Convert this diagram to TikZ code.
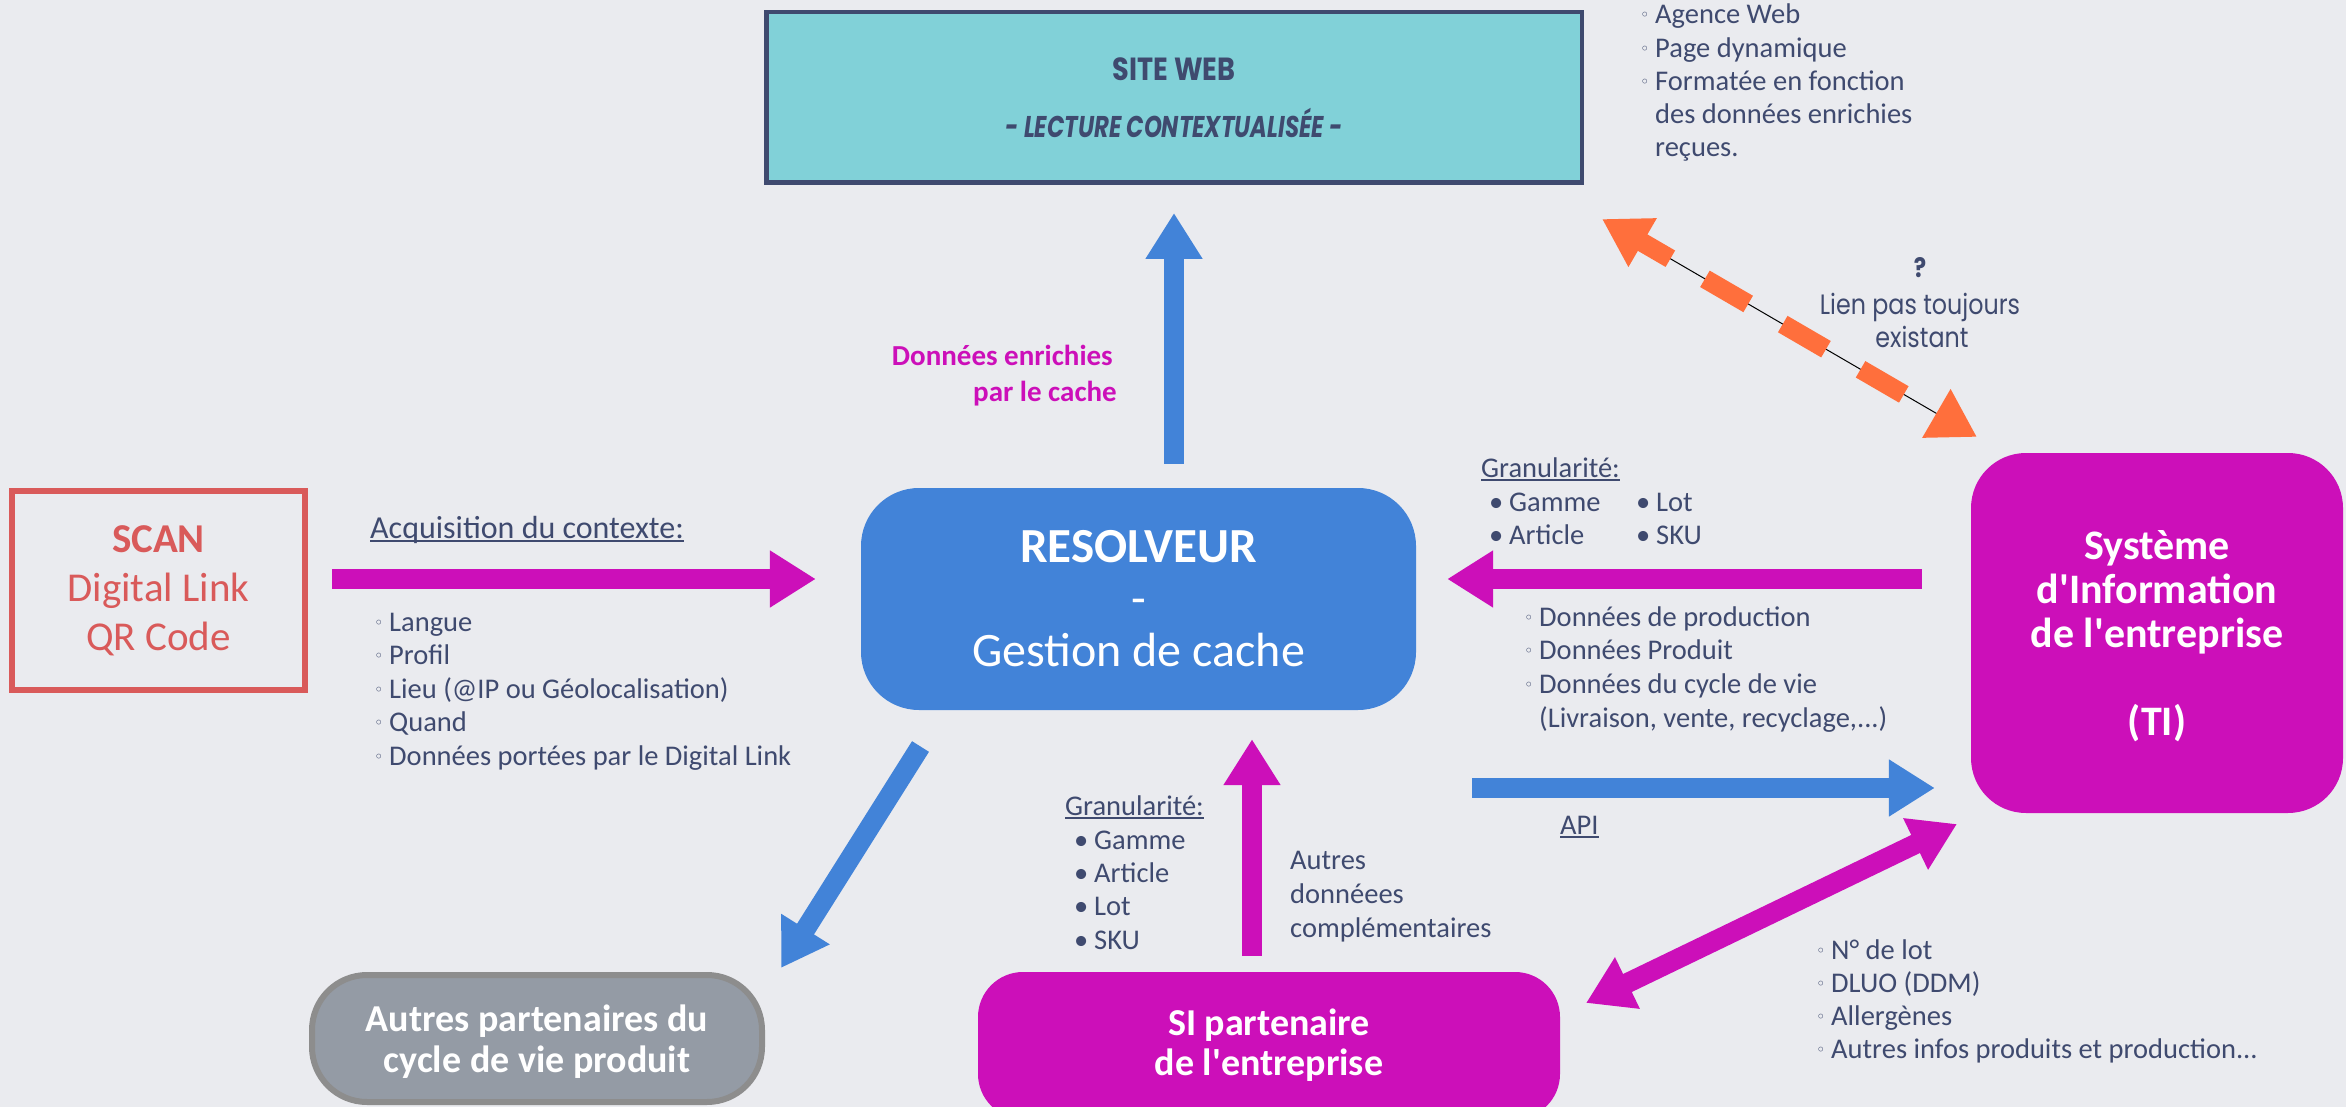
\documentclass[tikz,border=0pt]{standalone}
\usepackage{fontspec}
\setmainfont{Carlito}
\newfontfamily\geo{Poppins}[FakeStretch=0.85]
\newfontfamily\geoc{Poppins}[FakeStretch=0.76]
\newfontfamily\dv{DejaVu Sans}
\usetikzlibrary{arrows.meta}
\definecolor{bgc}{HTML}{EAEBEF}
\definecolor{navy}{HTML}{3F4A6F}
\definecolor{mag}{HTML}{CC0FB9}
\definecolor{blu}{HTML}{4283D8}
\definecolor{tealc}{HTML}{81D1D8}
\definecolor{redc}{HTML}{D95A5A}
\definecolor{orng}{HTML}{FF6F3C}
\definecolor{grayf}{HTML}{949BA5}
\definecolor{grayb}{HTML}{8D8D8D}
\newcommand\wb{\makebox[15pt][l]{\raisebox{3pt}{\dv\fontsize{16}{16}\selectfont ◦}}}
\newcommand\bb{\makebox[20pt][l]{•}}
\newcommand\qq{\textquotesingle}
\newcommand\ddd{.\kern0pt.\kern0pt.}
\begin{document}
\begin{tikzpicture}[x=1pt,y=-1pt,
  lst/.style={anchor=base west, inner sep=0pt, text=navy, font=\fontsize{28.5}{30}\selectfont},
  magfat/.style={draw=mag, line width=20pt, -{Triangle[length=46pt,width=54pt]}},
  blufat/.style={draw=blu, line width=20pt, -{Triangle[length=46pt,width=54pt]}},
  magboth/.style={draw=mag, line width=20pt, {Triangle[length=46pt,width=54pt]}-{Triangle[length=46pt,width=54pt]}},
  rbox/.style={inner sep=0pt, align=center, text=white},
  uline/.style={draw=navy, line width=2.5pt}
]
\fill[bgc] (0,0) rectangle (2346,1107);
\useasboundingbox (0,0) rectangle (2346,1107);

% main boxes
\node[draw=navy, line width=4.5pt, fill=tealc, minimum width=815.5pt, minimum height=170.5pt,
      inner sep=0pt, align=center, text=navy, font=\fontsize{32}{57}\selectfont] (site) at (1174,97.5)
  {{\geo\bfseries SITE WEB}\\{\geoc\itshape\bfseries\fontsize{30}{57}\selectfont - LECTURE CONTEXTUALISÉE -}};

\node[draw=redc, line width=6pt, minimum width=293pt, minimum height=199pt, inner sep=0pt,
      align=center, text=redc, font=\fontsize{41}{49}\selectfont] (scan) at (158.5,590.5)
  {\textbf{SCAN}\\Digital Link\\QR Code};

\node[fill=blu, rounded corners=58pt, minimum width=555pt, minimum height=222pt, rbox,
      font=\fontsize{48}{52}\selectfont] (res) at (1138.5,599)
  {{\fontsize{49}{52}\selectfont\textbf{RESOLVEUR}}\\-\\Gestion de cache};

\node[fill=mag, rounded corners=55pt, minimum width=372pt, minimum height=360pt, rbox,
      font=\bfseries\fontsize{42}{44}\selectfont, text depth=0pt] (ti) at (2157,633)
  {Système\\d\qq Information\\de l\qq entreprise\\[44pt](TI)};

\node[fill=mag, rounded corners=45pt, minimum width=582pt, minimum height=147pt, rbox,
      font=\bfseries\fontsize{38}{40}\selectfont] (sip) at (1269,1045.5)
  {SI partenaire\\de l\qq entreprise};

\node[draw=grayb, fill=grayf, line width=6pt, rounded corners=55pt, minimum width=450pt,
      minimum height=127pt, rbox, font=\bfseries\fontsize{38}{41}\selectfont, text depth=0pt] (aut) at (537,1038.5)
  {Autres partenaires du\\cycle de vie produit};

% helper coordinates
\coordinate (rowA) at (0,579);
\coordinate (rowB) at (0,788);
\coordinate (colC) at (1252,0);
\coordinate (dA) at (920.5,746.5);
\coordinate (dB) at (781,968);
\coordinate (eA) at (1957,824);
\coordinate (eB) at (1586,1003);
\coordinate (oA) at (1602,219);
\coordinate (oB) at (1977,437);

% arrows
\draw[magfat, shorten <=24pt, shorten >=45pt] (scan.east |- rowA) -- (res.west |- rowA);
\draw[magfat, shorten <=49pt, shorten >=31pt] (ti.west |- rowA) -- (res.east |- rowA);
\draw[blufat, shorten <=56pt, shorten >=36pt] (res.east |- rowB) -- (ti.west |- rowB);
\draw[blufat, shorten <=24pt, shorten >=28pt] (site.south |- res.north) -- (site.south);
\draw[magfat, shorten <=16pt, shorten >=29pt] (colC |- sip.north) -- (colC |- res.south);
\draw[blufat] (dA) -- (dB);
\draw[magboth] (eB) -- (eA);
\draw[black, line width=1pt, shorten <=30pt, shorten >=30pt] (oA) -- (oB);
\draw[orng, line width=19pt, dash pattern=on 50pt off 40pt, dash phase=15pt,
      {Triangle[length=47pt,width=53pt]}-{Triangle[length=47pt,width=53pt]}] (oA) -- (oB);

% texts
\node[lst, font=\fontsize{32}{32}\selectfont] (acq) at (370,538) {Acquisition du contexte:};
\draw[uline] ([yshift=-3pt]acq.base west) -- ([yshift=-3pt]acq.base east);
\foreach \t [count=\i from 0] in {Langue,Profil,{Lieu (@IP ou Géolocalisation)},Quand,{Données portées par le Digital Link}}
  \node[lst] (ctx\i) at (374,631+33.5*\i) {\wb\t};

\foreach \t [count=\i from 0] in {{\wb Agence Web},{\wb Page dynamique},{\wb Formatée en fonction},{\hspace*{15pt}des données enrichies},{\hspace*{15pt}reçues.}}
  \node[lst] (web\i) at (1640,24+33.25*\i) {\t};

\node[lst] (gr1) at (1481,477) {Granularité:};
\draw[uline] ([yshift=-3pt]gr1.base west) -- ([yshift=-3pt]gr1.base east);
\node[lst] (g1a) at (1489,511) {\bb Gamme};
\node[lst] (g1b) at (1489,544) {\bb Article};
\node[lst] (g1c) at (1636,511) {\bb Lot};
\node[lst] (g1d) at (1636,544) {\bb SKU};

\foreach \t [count=\i from 0] in {{\wb Données de production},{\wb Données Produit},{\wb Données du cycle de vie},{\hspace*{15pt}(Livraison, vente, recyclage,\ddd)}}
  \node[lst] (dp\i) at (1524,626+33.7*\i) {\t};

\node[lst] (gr2) at (1065,815) {Granularité:};
\draw[uline] ([yshift=-3pt]gr2.base west) -- ([yshift=-3pt]gr2.base east);
\foreach \t [count=\i from 0] in {Gamme,Article,Lot,SKU}
  \node[lst] (g2\i) at (1074,849+33.4*\i) {\bb\t};

\foreach \t [count=\i from 0] in {Autres,donnéees,complémentaires}
  \node[lst] (ad\i) at (1290,869+34*\i) {\t};

\node[lst] (api) at (1560,834) {API};
\draw[uline] ([yshift=-3pt]api.base west) -- ([yshift=-3pt]api.base east);

\foreach \t [count=\i from 0] in {{N° de lot},{DLUO (DDM)},{Allergènes},{Autres infos produits et production\ddd}}
  \node[lst] (lo\i) at (1816,959+33.3*\i) {\wb\t};

\node[anchor=base east, inner sep=0pt, text=mag, font=\bfseries\fontsize{29}{35}\selectfont] (enr1) at (1113,366) {Données enrichies};
\node[anchor=base east, inner sep=0pt, text=mag, font=\bfseries\fontsize{29}{35}\selectfont] (enr2) at (1117,401) {par le cache};

\node[anchor=base, inner sep=0pt, text=navy, font=\geo\bfseries\fontsize{27}{27}\selectfont] (qm) at (1920,278) {?};
\node[anchor=base, inner sep=0pt, text=navy, font=\geo\fontsize{28}{33}\selectfont] (lien1) at (1920,315) {Lien pas toujours};
\node[anchor=base, inner sep=0pt, text=navy, font=\geo\fontsize{28}{33}\selectfont] (lien2) at (1922,348) {existant};
\end{tikzpicture}
\end{document}
